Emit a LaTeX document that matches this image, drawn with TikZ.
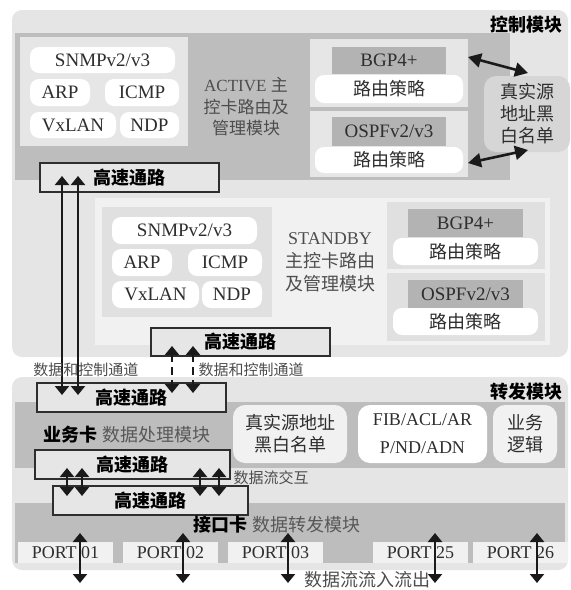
\documentclass[tikz,border=0pt]{standalone}
\usepackage{fontspec}
\setmainfont{Liberation Serif}
\newfontfamily\cjk{Noto Sans CJK SC}
\usetikzlibrary{arrows.meta}
\definecolor{cOuter}{HTML}{E5E5E5}
\definecolor{cBand}{HTML}{BDBDBD}
\definecolor{cPanel}{HTML}{E6E6E6}
\definecolor{cSoft}{HTML}{F1F1F1}
\definecolor{cInner}{HTML}{E0E0E0}
\definecolor{cDark}{HTML}{B3B3B3}
\definecolor{cSrc}{HTML}{D6D6D6}
\definecolor{cBus}{HTML}{E6E6E6}
\definecolor{cTxt}{HTML}{2E2E2E}
\definecolor{cArr}{HTML}{1A1A1A}
\newcommand\bx[7]{\node[#1,minimum width={(#5)-(#3)},minimum height={(#6)-(#4)},inner sep=0pt] (#2) at ({((#3)+(#5))/2},{((#4)+(#6))/2}) {#7};}
\begin{document}
\begin{tikzpicture}[x=1pt,y=-1pt,
  every node/.style={text=cTxt,align=center},
  outerbox/.style={fill=cOuter,rounded corners=10pt},
  band/.style={fill=cBand},
  panel/.style={fill=cPanel},
  softpanel/.style={fill=cSoft},
  innerpanel/.style={fill=cInner},
  darkbox/.style={fill=cDark},
  pill/.style={fill=white,rounded corners=9pt},
  srcbox/.style={fill=cSrc,rounded corners=12pt},
  lightbox/.style={fill=cSoft,rounded corners=12pt},
  whitebox/.style={fill=white,rounded corners=12pt},
  bus/.style={fill=cBus,draw=cTxt,line width=1.2pt,font=\cjk\bfseries\fontsize{18}{22}\selectfont,text=black},
  port/.style={fill=cSoft,font=\fontsize{18}{22}\selectfont},
  lat/.style={font=\fontsize{19}{22}\selectfont},
  cj/.style={font=\cjk\fontsize{18}{22}\selectfont},
  small/.style={font=\cjk\fontsize{15}{18}\selectfont,text=cTxt!85},
  dbl/.style={draw=cArr,line width=2.6pt,{Triangle[width=14pt,length=9pt]}-{Triangle[width=14pt,length=9pt]}},
  diag/.style={draw=cArr,line width=2.6pt,{Triangle[width=14pt,length=13pt]}-{Triangle[width=14pt,length=13pt]}},
  dashdbl/.style={dbl,line width=2.2pt,dash pattern=on 8pt off 5pt}
]
\useasboundingbox (0,0) rectangle (571,590);
% ---------- control module ----------
\bx{outerbox}{ctrl}{12}{10}{568}{357}{}
\node[font=\cjk\bfseries\fontsize{18}{22}\selectfont,text=black] (ctrllbl) at (526,25) {控制模块};
\bx{band}{cband}{15}{33}{510}{180}{}
% active protocols
\bx{panel}{apanel}{20}{37}{188}{146}{}
\bx{pill,lat}{asnmp}{30}{47}{175}{73}{SNMPv2/v3}
\bx{pill,lat}{aarp}{30}{79}{90}{106}{ARP}
\bx{pill,lat}{aicmp}{105}{79}{179}{106}{ICMP}
\bx{pill,lat}{avx}{30}{112}{116}{138}{VxLAN}
\bx{pill,lat}{andp}{120}{112}{179}{138}{NDP}
\node[font=\fontsize{17}{21.5}\selectfont,text=cTxt!85] (atxt) at (246,107) {ACTIVE {\cjk 主}\\{\cjk 控卡路由及}\\{\cjk 管理模块}};
% active routing
\bx{panel}{abgpp}{310}{39}{468}{107}{}
\bx{darkbox,lat}{abgp}{332}{47}{446}{74}{BGP4+}
\bx{pill,cj}{abgpr}{315}{75}{463}{103}{路由策略}
\bx{panel}{aospfp}{310}{111}{468}{177}{}
\bx{darkbox,lat}{aospf}{332}{117}{446}{146}{OSPFv2/v3}
\bx{pill,cj}{aospfr}{315}{147}{463}{173}{路由策略}
\bx{srcbox,cj}{csrc}{484}{76}{570}{152}{真实源\\地址黑\\白名单}
\coordinate (c1a) at (468,57);
\coordinate (c1b) at (528,73);
\coordinate (c2a) at (468,163);
\coordinate (c2b) at (528,150);
\draw[diag] (c1a) -- (c1b);
\draw[diag] (c2a) -- (c2b);
\bx{bus}{bus1}{40}{163}{219}{192}{高速通路}
% standby
\bx{softpanel}{spanel}{95}{198}{550}{345}{}
\bx{innerpanel}{sprot}{102}{207}{272}{317}{}
\bx{pill,lat}{ssnmp}{112}{217}{257}{244}{SNMPv2/v3}
\bx{pill,lat}{sarp}{112}{249}{172}{276}{ARP}
\bx{pill,lat}{sicmp}{188}{249}{262}{276}{ICMP}
\bx{pill,lat}{svx}{112}{281}{199}{308}{VxLAN}
\bx{pill,lat}{sndp}{202}{281}{262}{308}{NDP}
\node[font=\fontsize{18}{23}\selectfont,text=cTxt!85] (stxt) at (330,262) {STANDBY\\{\cjk 主控卡路由}\\{\cjk 及管理模块}};
\bx{innerpanel}{sbgpp}{387}{202}{545}{269}{}
\bx{darkbox,lat}{sbgp}{408}{209}{523}{237}{BGP4+}
\bx{pill,cj}{sbgpr}{393}{238}{538}{265}{路由策略}
\bx{innerpanel}{sospfp}{387}{273}{545}{341}{}
\bx{darkbox,lat}{sospf}{408}{280}{523}{308}{OSPFv2/v3}
\bx{pill,cj}{sospfr}{393}{308}{538}{335}{路由策略}
\bx{bus}{bus2}{151}{328}{330}{356}{高速通路}
% ---------- forwarding module ----------
\bx{outerbox}{fwd}{12}{377}{568}{570}{}
\node[font=\cjk\bfseries\fontsize{18}{22}\selectfont,text=black] (fwdlbl) at (526,392) {转发模块};
\bx{band}{fband}{15}{402}{565}{468}{}
\bx{band}{iband}{15}{503}{565}{563}{}
\node[font=\cjk\fontsize{18}{22}\selectfont,text=cTxt!80] (biz) at (127,435) {{\bfseries\color{black}业务卡} 数据处理模块};
\bx{lightbox,cj}{fsrc}{233}{405}{347}{463}{真实源地址\\黑白名单}
\bx{whitebox,lat,font=\fontsize{18}{28}\selectfont}{fib}{358}{405}{487}{463}{FIB/ACL/AR\\P/ND/ADN}
\bx{lightbox,cj}{logic}{493}{405}{557}{463}{业务\\逻辑}
\bx{bus}{bus3}{37}{383}{226}{412}{高速通路}
\bx{bus}{bus4}{35}{450}{230}{479}{高速通路}
\bx{bus}{bus5}{53}{486}{248}{515}{高速通路}
\node[font=\cjk\fontsize{18}{22}\selectfont,text=cTxt!80] (ifc) at (277,525) {{\bfseries\color{black}接口卡} 数据转发模块};
\bx{port}{p1}{18}{542}{113}{563}{PORT 01}
\bx{port}{p2}{123}{542}{218}{563}{PORT 02}
\bx{port}{p3}{228}{542}{323}{563}{PORT 03}
\bx{port}{p25}{373}{542}{468}{563}{PORT 25}
\bx{port}{p26}{473}{542}{568}{563}{PORT 26}
% ---------- arrows ----------
\coordinate (v1t) at (62,176); \coordinate (v1b) at (62,395);
\coordinate (v2t) at (78,176); \coordinate (v2b) at (78,395);
\draw[dbl] (v1t) -- (v1b);
\draw[dbl] (v2t) -- (v2b);
\coordinate (d1t) at (172,346); \coordinate (d1b) at (172,393);
\coordinate (d2t) at (193,346); \coordinate (d2b) at (193,393);
\draw[dashdbl] (d1t) -- (d1b);
\draw[dashdbl] (d2t) -- (d2b);
\foreach \x/\n in {67/a,82/b,200/c,219/d}{
  \coordinate (m\n t) at (\x,468); \coordinate (m\n b) at (\x,496);
  \draw[dbl] (m\n t) -- (m\n b);
}
\foreach \x/\n in {80/a,183/b,288/c,435/d,537/e}{
  \coordinate (q\n t) at (\x,533); \coordinate (q\n b) at (\x,583);
  \draw[dbl] (q\n t) -- (q\n b);
}
% ---------- labels ----------
\node[small] (lbl1) at (86,370) {数据和控制通道};
\node[small] (lbl2) at (251,370) {数据和控制通道};
\node[small] (lbl3) at (271,478) {数据流交互};
\node[font=\cjk\fontsize{18}{22}\selectfont,text=cTxt!85] (lbl4) at (367,580) {数据流流入流出};
\end{tikzpicture}
\end{document}
